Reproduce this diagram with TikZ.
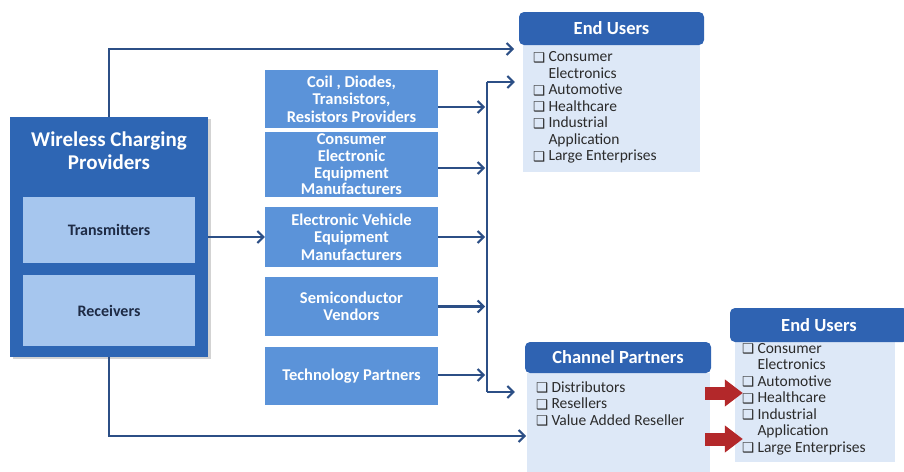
\documentclass[tikz,border=0pt]{standalone}
\usepackage{fontspec}
\setmainfont{Carlito}
\newfontfamily\symfont{DejaVu Sans}
\usetikzlibrary{arrows.meta,shadows}

\definecolor{provblue}{HTML}{2E66B4}
\definecolor{headblue}{HTML}{2F63B2}
\definecolor{midblue}{HTML}{5B93D9}
\definecolor{paleblue}{HTML}{A6C6EE}
\definecolor{bodyblue}{HTML}{DDE8F7}
\definecolor{lineblue}{HTML}{2C4F86}
\definecolor{navytext}{HTML}{1E2B45}
\definecolor{listgray}{HTML}{2B2B2B}
\definecolor{flowred}{HTML}{B3282A}

% check box and indent for the bullet lists
\newcommand{\chk}{\makebox[15.5pt][l]{\raisebox{-0.5pt}{\symfont\fontsize{13.5}{13.5}\selectfont ❑}}}
\newcommand{\ind}{\hspace*{15.5pt}}

\begin{document}
\begin{tikzpicture}[
    x=1pt, y=-1pt,
    provbox/.style={draw=none, fill=provblue, minimum width=198pt, minimum height=240pt,
        drop shadow={shadow xshift=2.5pt, shadow yshift=-2pt, opacity=0.35}},
    innerbox/.style={fill=paleblue, minimum width=172pt, text=navytext,
        font=\bfseries\fontsize{16}{17}\selectfont},
    midbox/.style={fill=midblue, minimum width=173pt, text=white, align=center,
        inner sep=1pt, font=\bfseries\fontsize{16.5}{17.5}\selectfont},
    headbox/.style={fill=headblue, rounded corners=5pt, text=white,
        font=\bfseries\fontsize{18.5}{20}\selectfont},
    listbody/.style={fill=bodyblue, anchor=north},
    listtext/.style={anchor=north west, inner sep=0pt, align=left, text=listgray,
        font=\fontsize{15.5}{16.5}\selectfont},
    flow/.style={draw=lineblue, line width=2.4pt,
        -{Straight Barb[length=6pt, width=12pt, line width=2pt]}},
    redarr/.style={draw=flowred, line width=13pt, -{Triangle[length=18pt, width=26pt]}}
    ]
    \useasboundingbox (0,0) rectangle (904,471);

    % providers block
    \node[provbox] (prov) at (109,237) {};
    \node[text=white, align=center, font=\bfseries\fontsize{21}{23}\selectfont] (ptitle) at (109,151)
        {Wireless Charging\\Providers};
    \node[innerbox, minimum height=66pt] (tx) at (109,230) {Transmitters};
    \node[innerbox, minimum height=71pt] (rx) at (109,310.5) {Receivers};

    % middle column
    \node[midbox, minimum height=58pt] (coil) at (351.5,99) {Coil , Diodes,\\Transistors,\\Resistors Providers};
    \node[midbox, minimum height=65pt, font=\bfseries\fontsize{16.5}{16.7}\selectfont] (cons) at (351.5,164.5)
        {Consumer\\Electronic\\Equipment\\Manufacturers};
    \node[midbox, minimum height=60pt] (ev) at (351.5,237) {Electronic Vehicle\\Equipment\\Manufacturers};
    \node[midbox, minimum height=59pt] (semi) at (351.5,306.5) {Semiconductor\\Vendors};
    \node[midbox, minimum height=58pt] (tech) at (351.5,376) {Technology Partners};

    % end users (top)
    \node[listbody, minimum width=177pt, minimum height=127pt] (eubody) at (611.5,45) {};
    \node[headbox, minimum width=185pt, minimum height=33pt] (euhead) at (611.5,28.5) {End Users};
    \node[listtext] (eulist) at ([shift={(10,6.5)}]eubody.north west)
        {\chk Consumer\\\ind Electronics\\\chk Automotive\\\chk Healthcare\\\chk Industrial\\\ind Application\\\chk Large Enterprises};

    % channel partners
    \node[listbody, minimum width=183pt, minimum height=105pt] (cpbody) at (618.5,373) {};
    \node[headbox, minimum width=186pt, minimum height=31pt] (cphead) at (618,357.5) {Channel Partners};
    \node[listtext] (cplist) at ([shift={(9,8.5)}]cpbody.north west)
        {\chk Distributors\\\chk Resellers\\\chk Value Added Reseller};

    % end users (bottom right)
    \node[listbody, minimum width=160pt, minimum height=120pt] (eu2body) at (815,342) {};
    \node[headbox, minimum width=178pt, minimum height=34pt] (eu2head) at (819,325) {End Users};
    \node[listtext] (eu2list) at ([shift={(7,1)}]eu2body.north west)
        {\chk Consumer\\\ind Electronics\\\chk Automotive\\\chk Healthcare\\\chk Industrial\\\ind Application\\\chk Large Enterprises};

    % bus between middle column and the right side
    \coordinate (bustop) at (487,82);
    \coordinate (busbot) at (487,392);
    \coordinate (toptip) at (514,49);
    \coordinate (bottip) at (526,436);
    \draw[draw=lineblue, line width=2.4pt] (bustop) -- (busbot);
    \draw[flow] (bustop) -- ([xshift=-8pt]eubody.west |- bustop);
    \draw[flow] (busbot) -- ([xshift=-12pt]cpbody.west |- busbot);
    \draw[flow] ([yshift=-8pt]coil.east) -- ([xshift=-2pt]bustop |- 0,107);
    \draw[flow] ([yshift=-3.5pt]cons.east) -- ([xshift=-2pt]bustop |- 0,168);
    \draw[flow] (ev.east) -- ([xshift=-2pt]bustop |- ev.east);
    \draw[flow] (semi.east) -- ([xshift=-2pt]bustop |- semi.east);
    \draw[flow] ([yshift=1pt]tech.east) -- ([xshift=-2pt]bustop |- 0,375);

    % providers to the rest
    \draw[flow] (prov.north) |- (toptip);
    \draw[flow] (prov.south) |- (bottip);
    \draw[flow] (prov.east) -- (ev.west);

    % channel partners to end users
    \coordinate (r1) at (705,393);
    \coordinate (r2) at (705,439);
    \draw[redarr] (r1) -- ([xshift=8pt]eu2body.west |- r1);
    \draw[redarr] (r2) -- ([xshift=8pt]eu2body.west |- r2);
\end{tikzpicture}
\end{document}
